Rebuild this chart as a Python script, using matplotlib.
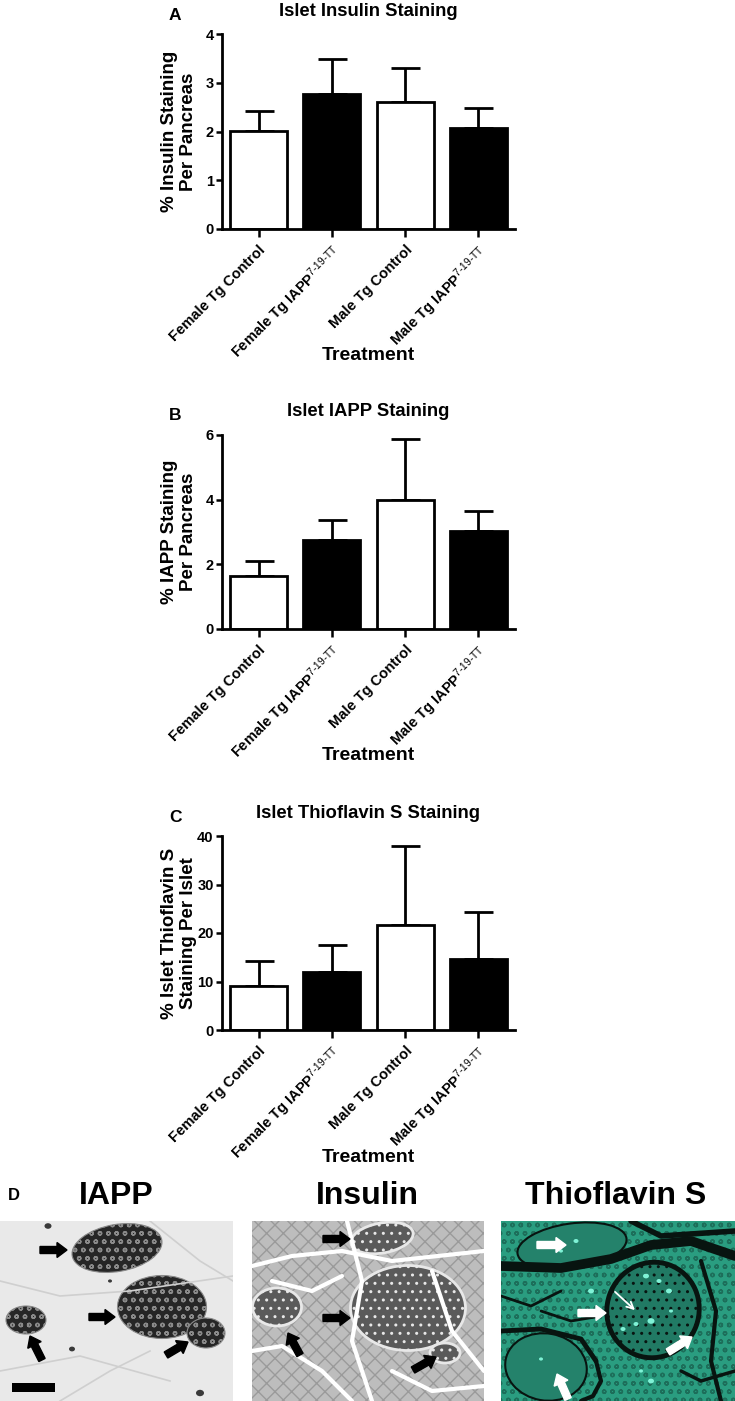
import matplotlib
matplotlib.use("Agg")
import matplotlib.pyplot as plt
import numpy as np
from matplotlib.patches import Ellipse, FancyArrow, Rectangle

plt.rcParams['font.family'] = ['Liberation Sans', 'DejaVu Sans']
plt.rcParams['mathtext.fontset'] = 'custom'
plt.rcParams['mathtext.rm'] = 'Liberation Sans'
plt.rcParams['mathtext.it'] = 'Liberation Sans:italic'
plt.rcParams['mathtext.bf'] = 'Liberation Sans:bold'

# ---------------- data ----------------
categories = ["Female Tg Control",
              r"Female Tg IAPP$^{\mathrm{7\text{-}19\text{-}TT}}$",
              "Male Tg Control",
              r"Male Tg IAPP$^{\mathrm{7\text{-}19\text{-}TT}}$"]
bar_colors = ["white", "black", "white", "black"]

insulin_mean = [2.02, 2.77, 2.60, 2.07]
insulin_upper = [2.42, 3.48, 3.30, 2.49]

iapp_mean = [1.65, 2.74, 3.99, 3.04]
iapp_upper = [2.09, 3.36, 5.87, 3.66]

thio_mean = [9.0, 12.0, 21.6, 14.7]
thio_upper = [14.2, 17.6, 37.9, 24.3]

panel_titles = ["Islet Insulin Staining", "Islet IAPP Staining", "Islet Thioflavin S Staining"]
panel_letters = ["A", "B", "C"]
ylabels = ["% Insulin Staining\nPer Pancreas", "% IAPP Staining\nPer Pancreas",
           "% Islet Thioflavin S\nStaining Per Islet"]
yticks = [[0, 1, 2, 3, 4], [0, 2, 4, 6], [0, 10, 20, 30, 40]]
xlabel = "Treatment"

image_titles = ["IAPP", "Insulin", "Thioflavin S"]

# ---------------- figure ----------------
W, H = 735, 1401
fig = plt.figure(figsize=(W / 100, H / 100), dpi=100)
PX = 0.72  # points per pixel

def ax_rect(left, right, top, bottom):
    return [left / W, 1 - bottom / H, (right - left) / W, (bottom - top) / H]

rects = [ax_rect(222, 515, 34, 229), ax_rect(222, 515, 435, 629), ax_rect(222, 515, 836, 1030)]
means = [insulin_mean, iapp_mean, thio_mean]
uppers = [insulin_upper, iapp_upper, thio_upper]

for i in range(3):
    ax = fig.add_axes(rects[i])
    x = np.arange(len(categories))
    m = np.array(means[i])
    u = np.array(uppers[i])
    ax.errorbar(x, m, yerr=[np.zeros_like(m), u - m], fmt='none', ecolor='black',
                elinewidth=2.0, capsize=14.5 * PX, capthick=2.0, zorder=1)
    ax.bar(x, m, width=0.78, color=bar_colors, edgecolor='black', linewidth=2.0, zorder=2)
    ax.set_xlim(-0.5, 3.5)
    ax.set_ylim(0, yticks[i][-1])
    ax.set_yticks(yticks[i])
    ax.set_yticklabels([str(t) for t in yticks[i]], fontsize=10.5, fontweight='bold')
    ax.set_xticks(x)
    ax.set_xticklabels(categories, rotation=45, ha='right', rotation_mode='anchor',
                       fontsize=10.5, fontweight='bold')
    for s in ['top', 'right']:
        ax.spines[s].set_visible(False)
    for s in ['left', 'bottom']:
        ax.spines[s].set_linewidth(2.0)
    ax.tick_params(axis='y', length=4, width=1.8, pad=2)
    ax.tick_params(axis='x', length=6, width=1.8, pad=4)
    ax.annotate(panel_titles[i], xy=(0.5, 1), xycoords='axes fraction',
                xytext=(0, 23 * PX), textcoords='offset points', ha='center', va='center',
                fontsize=13.3, fontweight='bold')
    ax.annotate(panel_letters[i], xy=(0, 1), xycoords='axes fraction',
                xytext=(-47 * PX, 19 * PX), textcoords='offset points', ha='center', va='center',
                fontsize=12.5, fontweight='bold')
    ax.annotate(ylabels[i], xy=(0, 0.5), xycoords='axes fraction',
                xytext=(-43 * PX, 0), textcoords='offset points', ha='center', va='center',
                rotation=90, fontsize=13.5, fontweight='bold', linespacing=1.2)
    ax.annotate(xlabel, xy=(0.5, 0), xycoords='axes fraction',
                xytext=(0, -127 * PX), textcoords='offset points', ha='center', va='center',
                fontsize=14, fontweight='bold')

# ---------------- panel D (schematic micrographs) ----------------
img_top = 1221
img_specs = [(0, 233), (252, 232), (501, 234)]
img_h = H - img_top
title_x = [116, 367, 616]
for t, tx in zip(image_titles, title_x):
    fig.text(tx / W, 1 - 1196 / H, t, ha='center', va='center', fontsize=23,
             fontweight='bold', family=['Liberation Sans Narrow', 'Liberation Sans'])
fig.text(14 / W, 1 - 1196 / H, "D", ha='center', va='center', fontsize=12, fontweight='bold')

axes_img = []
for (x0, w) in img_specs:
    a = fig.add_axes([x0 / W, 0, w / W, img_h / H])
    a.set_xlim(0, w)
    a.set_ylim(img_h, 0)
    a.axis('off')
    axes_img.append(a)

def arrow(a, x, y, dx, dy, color, width=7, head_w=15, head_l=10):
    a.add_patch(FancyArrow(x, y, dx, dy, width=width, head_width=head_w, head_length=head_l,
                           length_includes_head=True, color=color, zorder=5))

# IAPP image
a = axes_img[0]
a.add_patch(Rectangle((0, 0), 233, img_h, facecolor='#e9e9e9', edgecolor='none'))
for (xs, ys) in [([0, 60, 130, 233], [60, 75, 70, 55]), ([0, 80, 170], [150, 135, 160]),
                 ([150, 200, 233], [0, 40, 60]), ([60, 110, 150], [180, 150, 130])]:
    a.plot(xs, ys, color='#cfcfcf', lw=1.2)
for (cx, cy, ew, eh, ang) in [(117, 27, 91, 47, -10), (162, 86, 89, 63, 0),
                              (206, 112, 38, 30, 0), (26, 99, 40, 28, 0)]:
    a.add_patch(Ellipse((cx, cy), ew, eh, angle=ang, facecolor='#262626', edgecolor='#8a8a8a',
                        lw=0.8, hatch='oo'))
for (cx, cy, d) in [(48, 5, 7), (72, 128, 6), (200, 172, 8), (110, 60, 4)]:
    a.add_patch(Ellipse((cx, cy), d, d * 0.8, facecolor='#3a3a3a', edgecolor='none'))
arrow(a, 40, 29, 27, 0, 'black')
arrow(a, 89, 96, 26, 0, 'black')
arrow(a, 42, 139, -12, -24, 'black')
arrow(a, 166, 134, 22, -13, 'black')
a.add_patch(Rectangle((12, 162), 43, 9, facecolor='black', edgecolor='none', zorder=6))

# Insulin image
a = axes_img[1]
a.add_patch(Rectangle((0, 0), 232, img_h, facecolor='#bdbdbd', edgecolor='#9a9a9a', lw=0,
                      hatch='xx'))
for (xs, ys) in [([0, 40, 90, 140, 232], [45, 35, 30, 40, 30]), ([95, 110, 100, 120], [0, 60, 120, 180]),
                 ([0, 30, 70, 100], [130, 125, 150, 180]), ([180, 200, 232], [50, 110, 150]),
                 ([20, 60, 90], [60, 70, 55]), ([140, 180, 232], [150, 170, 165])]:
    a.plot(xs, ys, color='white', lw=3.0, solid_capstyle='round')
for (cx, cy, ew, eh, ang) in [(130, 17, 63, 30, -10), (156, 87, 115, 85, 0),
                              (25, 86, 49, 38, 0), (193, 132, 30, 20, 0)]:
    a.add_patch(Ellipse((cx, cy), ew, eh, angle=ang, facecolor='#5a5a5a', edgecolor='#e8e8e8',
                        lw=2.0, hatch='..'))
arrow(a, 71, 18, 27, 0, 'black')
arrow(a, 71, 97, 27, 0, 'black')
arrow(a, 48, 134, -12, -22, 'black')
arrow(a, 161, 149, 23, -13, 'black')

# Thioflavin S image
a = axes_img[2]
a.add_patch(Rectangle((0, 0), 234, img_h, facecolor='#2a9d80', edgecolor='#1d6e5a', lw=0,
                      hatch='oo'))
for (xs, ys, lw) in [([0, 60, 110, 150, 190, 234], [45, 47, 38, 24, 20, 35], 7),
                     ([130, 160, 234], [0, 15, 10], 4),
                     ([0, 40, 80, 95], [110, 108, 118, 140], 3.5),
                     ([95, 100, 92, 80], [140, 160, 175, 180], 3),
                     ([200, 215, 210, 220], [40, 90, 140, 180], 3),
                     ([0, 30, 60], [75, 85, 70], 2), ([40, 70, 100], [90, 100, 95], 2),
                     ([180, 200, 234], [150, 160, 150], 2.5)]:
    a.plot(xs, ys, color='#081410', lw=lw, solid_capstyle='round')
for (cx, cy, ew, eh, ang) in [(71, 25, 110, 45, -8), (45, 146, 82, 67, 10)]:
    a.add_patch(Ellipse((cx, cy), ew, eh, angle=ang, facecolor='#24826b', edgecolor='#081410',
                        lw=1.5))
a.add_patch(Ellipse((152, 89), 92, 96, angle=20, facecolor='#217a64', edgecolor='#081410',
                    lw=3.5, hatch='..'))
for (cx, cy, d) in [(145, 55, 6), (158, 60, 5), (168, 70, 6), (150, 100, 7), (135, 103, 5),
                    (122, 108, 5), (170, 90, 4), (75, 20, 5), (60, 30, 4), (40, 138, 4),
                    (90, 70, 6), (150, 160, 6), (140, 150, 4)]:
    a.add_patch(Ellipse((cx, cy), d, d * 0.8, facecolor='#7ff2d6', edgecolor='none', zorder=4))
arrow(a, 36, 24, 29, 0, 'white')
arrow(a, 77, 92, 28, 0, 'white')
arrow(a, 167, 131, 24, -15, 'white')
arrow(a, 67, 178, -11, -25, 'white')
a.annotate('', xy=(136, 91), xytext=(112, 69),
           arrowprops=dict(arrowstyle='->', color='white', lw=1.3, mutation_scale=12), zorder=6)

fig.savefig("out.png", dpi=100)
